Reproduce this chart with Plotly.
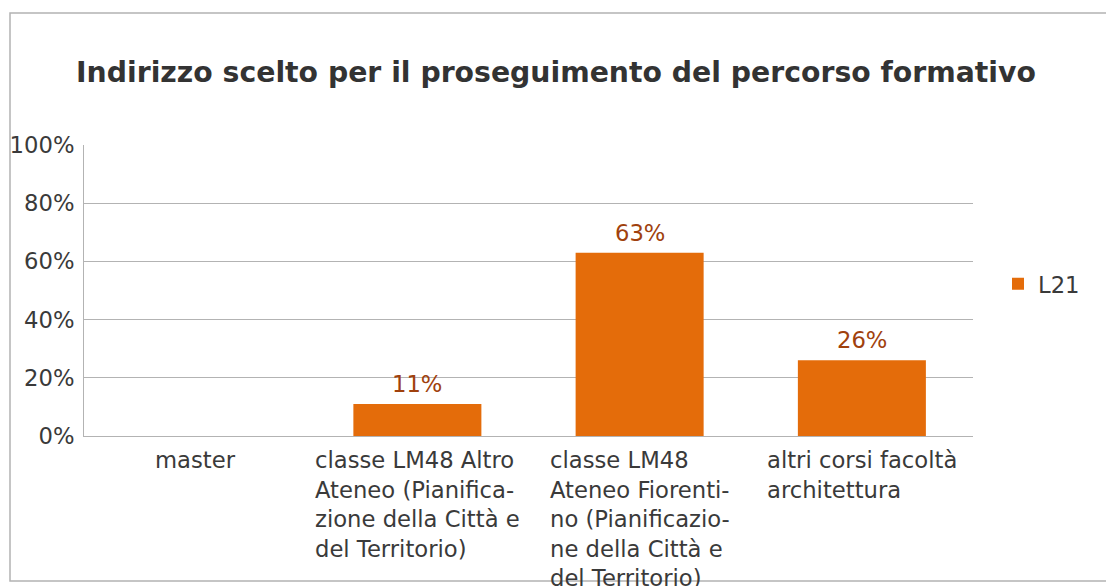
import plotly.graph_objects as go

categories = ["master",
              "classe LM48 Altro<br>Ateneo (Pianifica-<br>zione della Città e<br>del Territorio)",
              "classe LM48<br>Ateneo Fiorenti-<br>no (Pianificazio-<br>ne della Città e<br>del Territorio)",
              "altri corsi facoltà<br>architettura"]
cat_keys = ["c1", "c2", "c3", "c4"]
values = [0, 0.11, 0.63, 0.26]
labels = ["", "11%", "63%", "26%"]
series_name = "L21"
tick_vals = [0, 0.2, 0.4, 0.6, 0.8, 1.0]
tick_text = ["0%", "20%", "40%", "60%", "80%", "100%"]

OFF = 8  # page body margin
W, H = 1114 - OFF, 586 - OFF
L, T = 84 - OFF, 145 - OFF
pw, ph = 889, 291
R, B = W - L - pw, H - T - ph

FONT = "DejaVu Sans"
TXT = "#3a3a3a"
BAR = "#E46C0A"
LBL = "#A0410D"
GRID = "#b3b3b3"

fig = go.Figure()
fig.add_trace(go.Bar(
    x=cat_keys, y=values, name=series_name,
    marker=dict(color=BAR, line=dict(width=0)),
))

for k, v, t in zip(cat_keys, values, labels):
    if t:
        fig.add_annotation(x=k, xref="x", y=v, yref="y", yanchor="bottom", yshift=5,
                           xanchor="center", text=t, showarrow=False,
                           font=dict(family=FONT, size=22.7, color=LBL))

for k, c in zip(cat_keys, categories):
    fig.add_annotation(x=k, xref="x", y=0, yref="paper", yanchor="top", yshift=-9,
                       xanchor="center", align="left", text=c, showarrow=False,
                       font=dict(family=FONT, size=22.7, color=TXT))

def px_x(p):
    return (p - OFF - L) / pw

def px_y(p):
    return (T + ph - (p - OFF)) / ph

fig.add_shape(type="rect", xref="paper", yref="paper",
              x0=px_x(10), x1=px_x(1125), y0=px_y(13), y1=px_y(581),
              line=dict(color=GRID, width=1.5), fillcolor="rgba(0,0,0,0)", layer="below")

fig.update_layout(
    width=W, height=H,
    margin=dict(l=L, r=R, t=T, b=B, autoexpand=False),
    paper_bgcolor="white", plot_bgcolor="white",
    bargap=0.424,
    title=dict(text="<b>Indirizzo scelto per il proseguimento del percorso formativo</b>",
               x=(556 - OFF) / W, xanchor="center", y=1 - (72 - OFF) / H, yanchor="middle",
               font=dict(family=FONT, size=28.3, color="#333333")),
    showlegend=True,
    legend=dict(x=px_x(998), xanchor="left", y=px_y(284), yanchor="middle",
                font=dict(family=FONT, size=22.7, color=TXT), bgcolor="rgba(0,0,0,0)",
                itemwidth=30),
    xaxis=dict(showticklabels=False, ticks="", showgrid=False, showline=True,
               linecolor=GRID, linewidth=1, zeroline=False,
               range=[-0.5, 3.5]),
    yaxis=dict(range=[0, 1], tickvals=tick_vals, ticktext=tick_text,
               showgrid=True, gridcolor=GRID, gridwidth=1, showline=True,
               linecolor=GRID, linewidth=1, zeroline=False, ticks="",
               ticklabelstandoff=4,
               tickfont=dict(family=FONT, size=22.7, color=TXT)),
    font=dict(family=FONT),
)

fig.write_html("out.html")
